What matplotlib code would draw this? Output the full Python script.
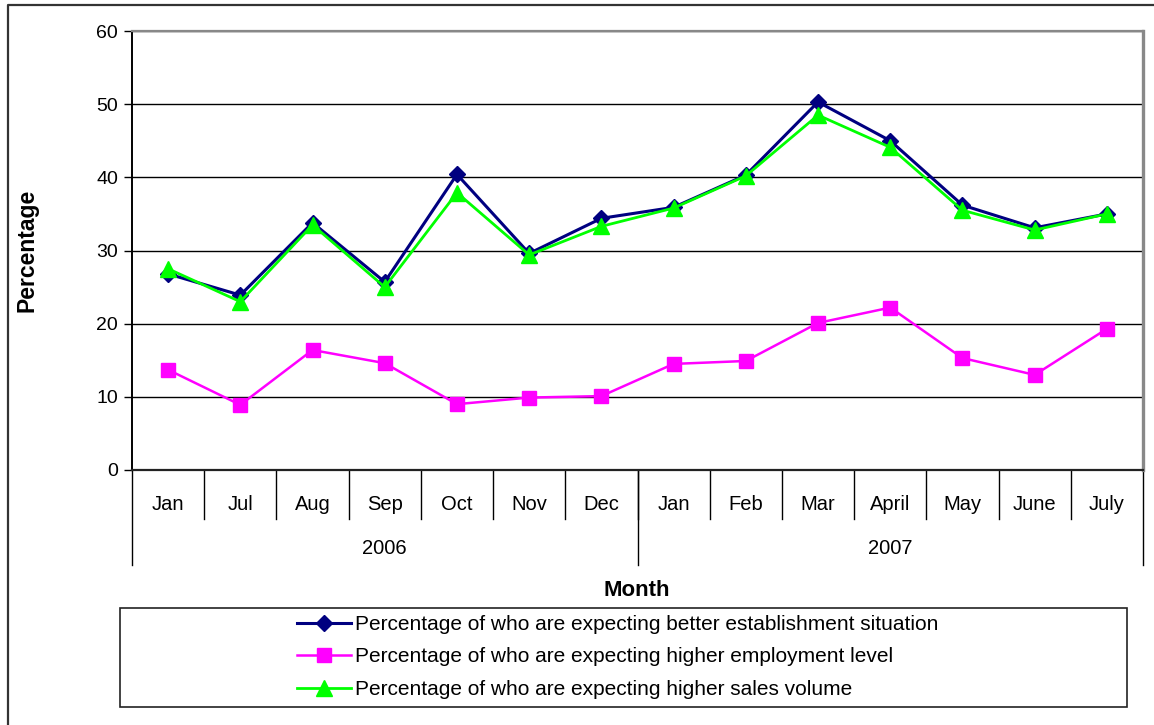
import matplotlib.pyplot as plt
from matplotlib.lines import Line2D
from matplotlib.patches import Rectangle
import matplotlib.transforms as mtransforms

plt.rcParams['font.family'] = ['Liberation Sans', 'DejaVu Sans']

months = ['Jan', 'Jul', 'Aug', 'Sep', 'Oct', 'Nov', 'Dec',
          'Jan', 'Feb', 'Mar', 'April', 'May', 'June', 'July']
years = ['2006', '2007']
year_spans = [(0, 6), (7, 13)]

establishment = [26.8, 23.9, 33.8, 25.7, 40.4, 29.6, 34.4,
                 35.9, 40.3, 50.3, 45.0, 36.2, 33.1, 35.0]
employment = [13.7, 8.9, 16.4, 14.6, 9.0, 9.9, 10.1,
              14.5, 14.9, 20.1, 22.2, 15.3, 13.0, 19.3]
sales = [27.5, 23.0, 33.5, 25.0, 37.9, 29.4, 33.3,
         35.8, 40.2, 48.5, 44.1, 35.5, 32.8, 35.0]

labels = ['Percentage of who are expecting better establishment situation',
          'Percentage of who are expecting higher employment level',
          'Percentage of who are expecting higher sales volume']


def main():
    W, H = 1154, 725
    fig = plt.figure(figsize=(W / 100, H / 100), dpi=100)

    def fx(px):
        return px / W

    def fy(py):
        return 1 - py / H

    # outer chart frame (cut at right/bottom)
    fig.add_artist(Line2D([fx(7.5), fx(7.5), fx(1160)], [fy(730), fy(5), fy(5)],
                          color='#333333', lw=1.6, transform=fig.transFigure))

    ax = fig.add_axes([fx(132), fy(470), fx(1143) - fx(132), fy(31) - fy(470)])
    x = list(range(len(months)))

    ax.plot(x, establishment, color='#000080', lw=2.2, marker='D', ms=8,
            label=labels[0], zorder=3)
    ax.plot(x, employment, color='#FF00FF', lw=1.8, marker='s', ms=10,
            label=labels[1], zorder=3)
    ax.plot(x, sales, color='#00FF00', lw=2.0, marker='^', ms=11,
            label=labels[2], zorder=4)

    ax.set_xlim(-0.5, len(months) - 0.5)
    ax.set_ylim(0, 60)
    ax.set_yticks(range(0, 61, 10))
    ax.yaxis.grid(True, color='black', lw=1.0)
    ax.set_axisbelow(True)
    ax.tick_params(axis='y', labelsize=14, length=6, width=1, pad=4)
    ax.set_xticks([])

    ax.spines['left'].set_color('black')
    ax.spines['left'].set_linewidth(1.4)
    ax.spines['bottom'].set_color('#222222')
    ax.spines['bottom'].set_linewidth(1.6)
    ax.spines['top'].set_color('#888888')
    ax.spines['top'].set_linewidth(1.6)
    ax.spines['right'].set_color('#888888')
    ax.spines['right'].set_linewidth(2.4)

    # category axis below plot
    trans = mtransforms.blended_transform_factory(ax.transData, fig.transFigure)
    for i in range(1, len(months)):
        ax.add_line(Line2D([i - 0.5, i - 0.5], [fy(470), fy(519)], color='black',
                           lw=1.0, transform=trans, clip_on=False))
    for b in [-0.5, 6.5, 13.5]:
        ax.add_line(Line2D([b, b], [fy(470), fy(565)], color='black',
                           lw=1.0, transform=trans, clip_on=False))
    for i, m in enumerate(months):
        ax.text(i, fy(504), m, transform=trans, ha='center', va='center',
                fontsize=14.5)
    for yr, (a, b) in zip(years, year_spans):
        ax.text((a + b) / 2, fy(549), yr, transform=trans, ha='center',
                va='center', fontsize=14.5)

    fig.text(fx(637), fy(591), 'Month', ha='center', va='center',
             fontsize=16, fontweight='bold')
    fig.text(fx(27), fy(250), 'Percentage', ha='center', va='center',
             rotation=90, fontsize=16.5, fontweight='bold')

    # legend box
    fig.add_artist(Rectangle((fx(120), fy(707)), fx(1127) - fx(120), fy(608) - fy(707),
                             transform=fig.transFigure, fill=False,
                             edgecolor='#222222', lw=1.2))
    handles, lbls = ax.get_legend_handles_labels()
    fig.legend(handles, lbls, loc='center', bbox_to_anchor=(fx(618), fy(657)),
               frameon=False, fontsize=15, handlelength=2.6, handletextpad=0.2,
               labelspacing=0.65, markerscale=1.0, borderpad=0)

    fig.savefig('out.png', dpi=100)


if __name__ == '__main__':
    main()
